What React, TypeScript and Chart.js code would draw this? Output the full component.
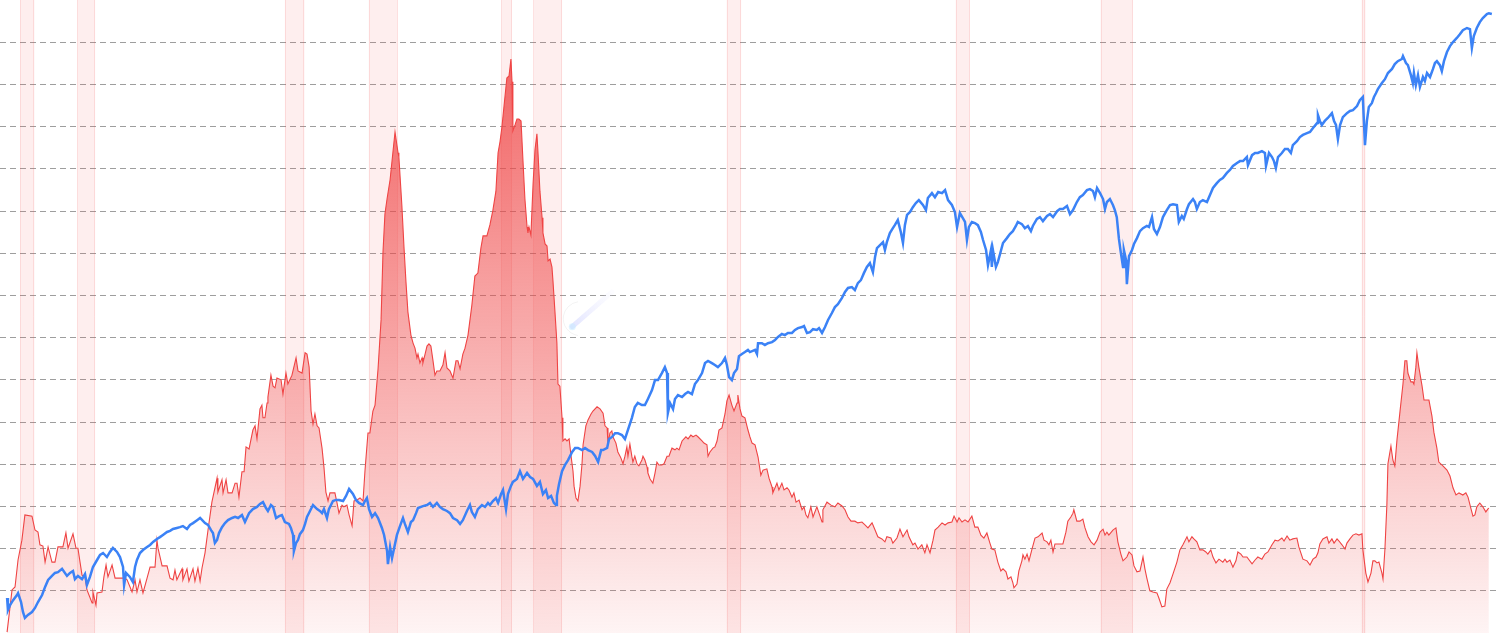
import React, { useEffect, useRef } from 'react';
import { Chart, registerables } from 'chart.js';

Chart.register(...registerables);

// Red indicator series: [decimal year, value]
const redSeries: [number, number][] = [
  [1956.98,0.02],[1957.21,1.02],[1957.35,1.09],[1957.49,1.73],[1957.67,2.20],[1957.81,2.80],[1958.14,2.77],[1958.28,2.44],[1958.42,2.39],[1958.51,2.09],[1958.65,2.06],[1958.75,1.68],[1958.89,2.04],[1959.07,1.68],[1959.21,1.68],[1959.35,2.04],[1959.58,2.04],[1959.72,2.37],[1959.82,2.01],[1960.05,2.35],[1960.19,2.01],[1960.28,2.01],[1960.47,1.37],[1960.61,1.33],[1960.70,1.02],[1960.94,0.71],[1960.98,0.97],[1961.12,0.66],[1961.17,0.95],[1961.40,0.97],[1961.49,1.33],[1961.59,1.61],[1961.68,1.33],[1961.87,1.61],[1962.01,1.30],[1962.24,1.30],[1962.47,1.30],[1962.57,1.26],[1962.80,0.97],[1962.94,1.26],[1963.03,0.97],[1963.17,1.26],[1963.31,0.95],[1963.50,1.30],[1963.64,1.56],[1963.87,1.56],[1963.96,2.20],[1964.01,2.01],[1964.20,1.59],[1964.43,1.59],[1964.57,1.30],[1964.71,1.26],[1964.80,1.49],[1964.89,1.26],[1965.13,1.52],[1965.17,1.26],[1965.36,1.52],[1965.45,1.23],[1965.64,1.52],[1965.73,1.23],[1965.87,1.54],[1965.97,1.23],[1966.06,1.54],[1966.20,1.90],[1966.34,2.44],[1966.52,3.10],[1966.76,3.67],[1966.80,3.34],[1966.99,3.63],[1967.04,3.32],[1967.18,3.63],[1967.27,3.32],[1967.46,3.32],[1967.60,3.55],[1967.69,3.55],[1967.78,3.22],[1967.92,3.82],[1968.02,3.82],[1968.11,4.41],[1968.25,4.36],
  [1968.43,4.81],[1968.53,4.91],[1968.62,4.60],[1968.76,5.31],[1968.85,5.40],[1968.90,5.10],[1968.99,5.10],[1969.09,5.45],[1969.13,5.59],[1969.27,6.11],[1969.37,5.85],[1969.46,5.81],[1969.55,6.04],[1969.74,6.00],[1969.83,5.66],[1969.97,6.16],[1970.06,5.90],[1970.25,6.11],[1970.44,6.52],[1970.53,6.21],[1970.72,6.16],[1970.86,6.64],[1970.95,6.61],[1971.05,6.30],[1971.14,5.26],[1971.23,4.95],[1971.32,5.19],[1971.42,4.91],[1971.51,4.86],[1971.65,4.38],[1971.74,3.93],[1971.83,3.34],[1971.93,3.13],[1972.02,3.32],[1972.25,3.32],[1972.35,3.08],[1972.44,2.84],[1972.58,3.03],[1972.67,2.99],[1972.81,3.03],[1972.91,2.80],[1973.05,2.54],[1973.14,3.13],[1973.28,3.15],[1973.42,3.20],[1973.56,3.13],[1973.65,3.84],[1973.79,4.74],[1973.88,4.74],[1974.02,5.26],[1974.12,5.40],[1974.26,6.26],[1974.40,7.42],[1974.49,9.03],[1974.58,9.93],[1974.68,10.29],[1974.82,10.74],[1974.95,11.38],[1975.05,11.87],[1975.19,11.38],[1975.23,11.28],[1975.37,10.12],[1975.47,9.12],[1975.56,8.32],[1975.65,7.61],[1975.79,7.06],[1975.89,6.87],[1975.98,6.75],[1976.07,6.52],[1976.12,6.61],[1976.21,6.40],[1976.31,6.52],[1976.35,6.40],[1976.45,6.61],[1976.54,6.80],[1976.63,6.85],[1976.72,6.80],[1976.82,6.45],[1976.91,6.11],[1977.00,6.21],[1977.14,6.21],[1977.28,6.35],[1977.38,6.64],[1977.47,6.28],[1977.61,6.21],[1977.75,6.04],[1977.89,6.45],[1977.98,6.45],[1978.08,6.26],[1978.21,6.61],[1978.31,6.75],[1978.45,7.06],[1978.63,7.77],[1978.77,8.46],[1978.91,8.53],[1979.05,9.12],[1979.15,9.41],[1979.33,9.41],[1979.47,9.67],[1979.61,10.02],[1979.75,10.47],[1979.85,11.38],[1979.94,11.64],
  [1980.03,11.99],[1980.17,12.70],[1980.26,13.15],[1980.36,13.20],[1980.45,13.60],[1980.50,13.06],[1980.54,11.90],[1980.64,12.04],[1980.73,12.18],[1980.82,12.18],[1980.92,12.13],[1981.01,11.19],[1981.10,10.29],[1981.20,9.62],[1981.24,9.48],[1981.29,9.62],[1981.38,9.43],[1981.48,10.64],[1981.57,11.45],[1981.66,11.83],[1981.71,11.38],[1981.80,10.47],[1981.90,9.84],[1981.94,9.48],[1982.04,9.22],[1982.13,9.17],[1982.18,8.82],[1982.27,8.86],[1982.36,8.67],[1982.41,8.32],[1982.50,7.61],[1982.59,6.87],[1982.64,5.90],[1982.73,5.85],[1982.83,5.10],[1982.87,4.55],[1982.97,4.60],[1983.06,4.55],[1983.16,4.60],[1983.25,4.19],[1983.34,3.84],[1983.39,3.48],[1983.48,3.20],[1983.57,3.13],[1983.67,3.48],[1983.76,4.01],[1983.81,4.46],[1983.94,4.91],[1984.04,5.05],[1984.18,5.19],[1984.27,5.26],[1984.46,5.36],[1984.60,5.31],[1984.74,5.21],[1984.83,4.91],[1984.93,4.86],[1984.97,4.46],[1985.06,4.74],[1985.15,4.79],[1985.20,4.65],[1985.34,4.50],[1985.43,4.29],[1985.57,4.15],[1985.67,4.01],[1985.76,4.19],[1985.85,4.41],[1985.90,4.19],[1985.99,4.48],[1986.08,4.19],[1986.13,4.05],[1986.22,4.19],[1986.32,4.01],[1986.41,3.96],[1986.55,4.10],[1986.60,4.19],[1986.69,4.10],[1986.79,3.93],[1986.83,3.79],[1986.93,3.65],[1987.06,3.55],[1987.16,3.79],[1987.25,4.05],[1987.34,3.98],[1987.48,3.98],[1987.58,4.01],[1987.72,4.19],[1987.81,4.19],[1987.95,4.38],[1988.09,4.34],[1988.18,4.38],[1988.28,4.34],[1988.42,4.55],[1988.51,4.60],[1988.60,4.65],[1988.70,4.60],[1988.83,4.69],[1988.93,4.65],[1989.07,4.69],[1989.16,4.65],[1989.35,4.55],[1989.44,4.50],[1989.58,4.46],[1989.63,4.19],[1989.72,4.29],[1989.86,4.38],[1989.95,4.41],[1990.05,4.55],[1990.14,4.81],[1990.28,4.86],[1990.42,5.19],[1990.51,5.50],[1990.61,5.64],[1990.74,5.40],[1990.84,5.26],[1990.98,5.45],[1991.02,5.64],[1991.12,5.31],[1991.21,5.14],[1991.35,5.10],[1991.49,4.81],[1991.58,4.65],
  [1991.68,4.50],[1991.82,4.46],[1991.96,4.17],[1992.09,3.74],[1992.19,3.86],[1992.37,3.89],[1992.47,3.67],[1992.61,3.46],[1992.65,3.32],[1992.84,3.55],[1992.93,3.39],[1993.07,3.55],[1993.17,3.39],[1993.31,3.44],[1993.40,3.39],[1993.54,3.22],[1993.63,3.32],[1993.73,3.10],[1993.87,3.15],[1994.01,2.92],[1994.10,2.99],[1994.19,2.80],[1994.28,2.73],[1994.42,2.99],[1994.52,2.75],[1994.70,2.99],[1994.80,2.84],[1994.94,2.63],[1994.98,2.92],[1995.17,3.10],[1995.36,3.03],[1995.54,2.99],[1995.68,3.08],[1995.87,3.01],[1996.01,2.92],[1996.15,2.75],[1996.29,2.65],[1996.47,2.65],[1996.61,2.61],[1996.80,2.63],[1996.94,2.56],[1997.08,2.49],[1997.27,2.61],[1997.41,2.44],[1997.54,2.28],[1997.73,2.23],[1997.87,2.16],[1997.96,2.28],[1998.15,2.25],[1998.24,2.13],[1998.43,2.25],[1998.57,2.46],[1998.71,2.28],[1998.90,2.44],[1998.99,2.28],[1999.17,2.09],[1999.27,2.13],[1999.41,1.99],[1999.59,2.09],[1999.73,1.90],[1999.83,2.09],[1999.97,1.90],[2000.11,2.20],[2000.20,2.44],[2000.35,2.51],[2000.53,2.61],[2000.67,2.56],[2000.81,2.61],[2000.99,2.63],[2001.09,2.77],[2001.23,2.63],[2001.32,2.73],[2001.46,2.63],[2001.60,2.68],[2001.74,2.63],[2001.92,2.77],[2002.06,2.51],[2002.20,2.51],[2002.34,2.32],[2002.48,2.25],[2002.62,2.37],[2002.76,2.13],
  [2002.85,1.99],[2002.99,1.97],[2003.13,1.68],[2003.27,1.47],[2003.37,1.52],[2003.51,1.45],[2003.60,1.28],[2003.74,1.33],[2003.83,1.19],[2003.88,1.07],[2004.02,1.16],[2004.11,1.47],[2004.25,1.71],[2004.30,1.85],[2004.39,1.75],[2004.49,1.87],[2004.58,1.71],[2004.72,1.99],[2004.86,2.25],[2005.00,2.28],[2005.19,2.37],[2005.28,2.20],[2005.42,2.16],[2005.51,2.09],[2005.60,2.20],[2005.70,1.92],[2005.79,2.11],[2006.02,2.11],[2006.16,2.11],[2006.30,2.39],[2006.39,2.65],[2006.53,2.75],[2006.63,2.84],[2006.67,2.92],[2006.81,2.65],[2006.95,2.65],[2007.09,2.70],[2007.19,2.49],[2007.33,2.28],[2007.47,2.16],[2007.61,2.09],[2007.75,2.20],[2007.89,2.39],[2008.03,2.46],[2008.12,2.32],[2008.21,2.39],[2008.30,2.32],[2008.49,2.44],[2008.63,2.49],[2008.72,2.16],[2008.86,1.87],[2008.96,1.71],[2009.14,1.80],[2009.24,1.92],[2009.38,1.85],[2009.47,1.59],[2009.61,1.45],[2009.75,1.47],[2009.84,1.68],[2009.89,1.80],[2009.98,1.52],[2010.07,1.30],[2010.21,1.00],[2010.35,0.97],[2010.54,0.95],[2010.63,0.83],[2010.77,0.62],[2010.91,0.64],[2011.00,1.04],[2011.15,1.19],[2011.29,1.40],[2011.47,1.68],[2011.61,1.97],[2011.75,2.09],[2011.94,2.28],[2012.03,2.16],[2012.17,2.28],[2012.26,2.23],[2012.40,2.16],[2012.54,1.97],[2012.68,1.97],[2012.82,1.92],[2012.91,1.87],[2013.05,1.97],[2013.15,1.80],[2013.29,1.66],[2013.43,1.75],[2013.61,1.68],[2013.71,1.75],[2013.80,1.68],[2013.94,1.73],[2014.08,1.56],[2014.22,1.71],[2014.31,1.92],[2014.45,1.87],[2014.55,1.80],
  [2014.73,1.80],[2014.97,1.64],[2015.11,1.73],[2015.24,1.80],[2015.43,1.75],[2015.57,1.87],[2015.71,1.92],[2015.90,2.09],[2016.04,2.20],[2016.18,2.18],[2016.36,2.25],[2016.46,2.18],[2016.60,2.30],[2016.73,2.20],[2016.87,2.23],[2017.06,2.25],[2017.15,2.04],[2017.34,1.75],[2017.53,1.71],[2017.67,1.61],[2017.81,1.75],[2017.95,1.80],[2018.04,1.90],[2018.13,2.11],[2018.27,2.23],[2018.46,2.28],[2018.55,2.13],[2018.69,2.23],[2018.79,2.13],[2018.93,2.23],[2019.02,2.18],[2019.16,2.09],[2019.30,1.99],[2019.39,2.13],[2019.53,2.23],[2019.67,2.32],[2019.81,2.35],[2019.95,2.32],[2020.09,2.35],[2020.13,1.99],[2020.27,1.42],[2020.37,1.21],[2020.51,1.42],[2020.60,1.71],[2020.69,1.71],[2020.79,1.66],[2020.88,1.68],[2021.02,1.42],[2021.07,1.28],[2021.16,1.99],[2021.25,3.03],[2021.30,4.01],[2021.44,4.43],[2021.53,4.10],[2021.62,3.96],[2021.72,4.57],[2021.86,5.24],[2022.00,5.90],[2022.09,6.45],[2022.18,6.45],[2022.23,6.16],[2022.37,5.95],[2022.46,5.95],[2022.51,5.90],[2022.60,6.30],[2022.65,6.64],[2022.74,6.30],[2022.89,5.85],[2022.98,5.52],[2023.12,5.52],[2023.21,5.52],[2023.35,5.14],[2023.44,4.76],[2023.58,4.38],[2023.67,4.05],[2023.86,3.96],[2024.05,3.86],[2024.19,3.72],[2024.33,3.44],[2024.47,3.27],[2024.61,3.32],[2024.79,3.27],[2024.93,3.32],[2025.03,3.22],[2025.17,2.94],[2025.26,2.77],[2025.35,2.80],[2025.44,2.99],[2025.58,3.08],[2025.72,2.99],[2025.86,2.87],[2025.96,2.94],[2026.00,2.96],
];

// S&P 500, log10 of index level: [decimal year, log10(level)]
const spxLog10: [number, number][] = [
  [1956.98,1.670],[1957.02,1.625],[1957.12,1.644],[1957.26,1.662],[1957.44,1.681],[1957.49,1.688],[1957.63,1.655],[1957.72,1.618],[1957.81,1.596],[1957.95,1.607],[1958.14,1.618],[1958.28,1.633],[1958.42,1.655],[1958.61,1.681],[1958.75,1.711],[1958.89,1.737],[1959.07,1.752],[1959.21,1.763],[1959.35,1.766],[1959.54,1.778],[1959.77,1.752],[1959.91,1.763],[1960.05,1.770],[1960.14,1.740],[1960.28,1.752],[1960.47,1.740],[1960.61,1.759],[1960.70,1.718],[1960.84,1.748],[1960.98,1.785],[1961.17,1.811],[1961.31,1.830],[1961.45,1.837],[1961.63,1.822],[1961.77,1.841],[1961.91,1.856],[1962.10,1.841],[1962.24,1.822],[1962.38,1.785],[1962.43,1.718],[1962.52,1.763],[1962.70,1.748],[1962.84,1.729],[1962.94,1.785],[1963.03,1.811],[1963.17,1.837],[1963.31,1.848],[1963.50,1.859],[1963.64,1.867],[1963.78,1.878],[1963.96,1.889],[1964.10,1.896],[1964.24,1.904],[1964.43,1.915],[1964.57,1.919],[1964.71,1.926],[1964.89,1.930],[1965.03,1.933],[1965.17,1.937],[1965.36,1.926],[1965.50,1.941],[1965.64,1.948],[1965.83,1.959],[1965.97,1.967],[1966.20,1.948],[1966.34,1.941],[1966.48,1.922],[1966.57,1.911],[1966.66,1.874],[1966.76,1.885],[1966.85,1.911],[1966.99,1.933],[1967.13,1.948],[1967.27,1.959],[1967.46,1.967],[1967.60,1.971],[1967.74,1.967],[1967.92,1.978],[1968.06,1.952],[1968.25,1.985],
  [1968.43,2.000],[1968.62,2.008],[1968.76,2.019],[1968.90,2.026],[1969.04,2.004],[1969.13,1.993],[1969.27,2.015],[1969.37,2.008],[1969.51,1.967],[1969.65,1.974],[1969.78,1.978],[1969.92,1.952],[1970.11,1.945],[1970.20,1.930],[1970.30,1.904],[1970.34,1.844],[1970.44,1.874],[1970.53,1.885],[1970.62,1.907],[1970.76,1.922],[1970.86,1.945],[1970.95,1.971],[1971.09,1.993],[1971.23,2.015],[1971.42,2.000],[1971.55,1.993],[1971.65,1.985],[1971.74,2.000],[1971.88,1.967],[1971.97,2.000],[1972.16,2.030],[1972.30,2.034],[1972.44,2.034],[1972.63,2.030],[1972.77,2.049],[1972.91,2.075],[1973.09,2.056],[1973.23,2.034],[1973.37,2.023],[1973.56,2.015],[1973.65,2.030],[1973.74,2.041],[1973.84,2.000],[1973.98,1.971],[1974.12,1.985],[1974.26,1.967],[1974.44,1.930],[1974.54,1.904],[1974.68,1.844],[1974.72,1.796],[1974.82,1.859],[1974.91,1.818],[1975.00,1.852],[1975.14,1.904],[1975.28,1.937],[1975.42,1.967],[1975.51,1.945],[1975.65,1.915],[1975.79,1.952],[1975.89,1.959],[1976.03,1.985],[1976.12,2.004],[1976.35,2.011],[1976.54,2.015],[1976.68,2.023],[1976.82,2.008],[1977.00,2.023],[1977.14,2.008],[1977.28,2.000],[1977.47,1.993],[1977.61,1.985],[1977.75,1.967],[1977.94,1.959],[1978.08,1.945],[1978.21,1.959],[1978.40,1.993],[1978.54,2.015],[1978.63,1.989],[1978.77,1.971],[1978.91,2.000],
  [1979.10,2.015],[1979.24,2.008],[1979.38,2.023],[1979.47,2.015],[1979.61,2.030],[1979.75,2.041],[1979.85,2.023],[1979.99,2.056],[1980.08,2.071],[1980.22,2.000],[1980.31,2.056],[1980.45,2.086],[1980.54,2.101],[1980.73,2.112],[1980.87,2.141],[1981.01,2.112],[1981.20,2.134],[1981.34,2.119],[1981.48,2.112],[1981.66,2.086],[1981.80,2.101],[1981.94,2.056],[1982.08,2.071],[1982.18,2.041],[1982.32,2.049],[1982.45,2.023],[1982.55,2.015],[1982.59,2.049],[1982.69,2.093],[1982.83,2.141],[1982.97,2.164],[1983.11,2.182],[1983.30,2.212],[1983.44,2.227],[1983.57,2.227],[1983.76,2.219],[1983.90,2.227],[1984.04,2.219],[1984.23,2.212],[1984.37,2.197],[1984.51,2.175],[1984.65,2.219],[1984.74,2.219],[1984.93,2.227],[1985.02,2.260],[1985.16,2.268],[1985.30,2.282],[1985.43,2.282],[1985.62,2.275],[1985.76,2.260],[1985.90,2.294],[1986.08,2.338],[1986.22,2.379],[1986.36,2.394],[1986.55,2.386],[1986.69,2.386],[1986.83,2.409],[1987.02,2.442],[1987.16,2.479],[1987.30,2.479],[1987.48,2.505],[1987.62,2.527],[1987.72,2.505],[1987.76,2.357],[1987.86,2.394],[1988.00,2.371],[1988.09,2.409],[1988.23,2.423],[1988.42,2.416],[1988.56,2.427],[1988.70,2.435],[1988.88,2.427],[1989.02,2.464],[1989.16,2.479],[1989.35,2.505],[1989.49,2.542],[1989.63,2.550],[1989.81,2.542],[1989.95,2.535],[1990.09,2.527],[1990.28,2.542],[1990.42,2.561],[1990.51,2.535],[1990.61,2.490],[1990.74,2.479],[1990.84,2.505],[1990.98,2.520],[1991.07,2.568],[1991.21,2.576],[1991.35,2.583],[1991.49,2.591],
  [1991.58,2.583],[1991.82,2.591],[1991.91,2.576],[1991.96,2.616],[1992.14,2.616],[1992.28,2.609],[1992.42,2.616],[1992.61,2.620],[1992.75,2.628],[1992.89,2.639],[1993.07,2.650],[1993.21,2.646],[1993.35,2.654],[1993.54,2.654],[1993.68,2.665],[1993.82,2.672],[1994.01,2.676],[1994.10,2.680],[1994.24,2.654],[1994.38,2.657],[1994.52,2.668],[1994.70,2.665],[1994.80,2.672],[1994.94,2.654],[1995.08,2.676],[1995.22,2.702],[1995.40,2.728],[1995.54,2.750],[1995.68,2.761],[1995.87,2.784],[1996.01,2.806],[1996.15,2.821],[1996.33,2.824],[1996.47,2.813],[1996.61,2.839],[1996.75,2.850],[1996.89,2.876],[1997.03,2.899],[1997.17,2.913],[1997.31,2.880],[1997.41,2.936],[1997.50,2.969],[1997.64,2.980],[1997.78,2.991],[1997.87,2.962],[1997.96,2.991],[1998.10,3.025],[1998.24,3.043],[1998.33,3.054],[1998.47,3.073],[1998.61,3.029],[1998.71,2.988],[1998.80,3.054],[1998.90,3.092],[1999.04,3.103],[1999.17,3.121],[1999.31,3.136],[1999.45,3.147],[1999.64,3.129],[1999.78,3.110],[1999.87,3.155],[2000.06,3.173],[2000.20,3.158],[2000.35,3.177],[2000.53,3.173],[2000.67,3.184],[2000.81,3.147],[2000.99,3.129],[2001.13,3.103],[2001.23,3.047],[2001.36,3.099],[2001.50,3.080],[2001.60,3.066],[2001.69,2.999],[2001.78,3.047],[2001.92,3.066],[2002.06,3.062],[2002.20,3.054],[2002.34,3.029],[2002.44,2.999],[2002.58,2.962],[2002.67,2.906],[2002.81,2.962],
  [2002.85,2.899],[2002.90,2.962],[2003.04,2.899],[2003.13,2.917],[2003.27,2.958],[2003.37,2.988],[2003.55,3.006],[2003.69,3.021],[2003.83,3.032],[2003.97,3.051],[2004.06,3.066],[2004.25,3.058],[2004.39,3.043],[2004.53,3.051],[2004.67,3.032],[2004.76,3.051],[2004.95,3.077],[2005.09,3.084],[2005.23,3.069],[2005.42,3.088],[2005.56,3.095],[2005.70,3.084],[2005.89,3.106],[2006.02,3.114],[2006.16,3.114],[2006.35,3.125],[2006.49,3.095],[2006.63,3.110],[2006.81,3.140],[2006.95,3.158],[2007.09,3.166],[2007.28,3.184],[2007.42,3.188],[2007.56,3.181],[2007.65,3.158],[2007.75,3.192],[2007.89,3.173],[2008.03,3.151],[2008.12,3.114],[2008.21,3.140],[2008.35,3.151],[2008.49,3.129],[2008.58,3.110],[2008.67,3.084],[2008.77,3.003],[2008.86,2.951],[2008.96,2.899],[2009.00,2.962],[2009.10,2.925],[2009.14,2.835],[2009.24,2.939],[2009.38,2.962],[2009.47,2.984],[2009.61,3.006],[2009.75,3.032],[2009.89,3.043],[2010.07,3.051],[2010.17,3.047],[2010.31,3.084],[2010.40,3.040],[2010.54,3.021],[2010.68,3.047],[2010.82,3.084],[2011.00,3.110],[2011.15,3.129],[2011.29,3.132],[2011.47,3.129],[2011.56,3.066],[2011.70,3.088],[2011.79,3.077],[2011.94,3.114],[2012.03,3.132],[2012.22,3.151],[2012.31,3.140],[2012.40,3.114],[2012.54,3.140],[2012.68,3.147],[2012.87,3.140],[2013.01,3.166],[2013.15,3.192],[2013.33,3.210],[2013.47,3.222],[2013.61,3.229],[2013.80,3.248],[2013.94,3.259],[2014.08,3.274],[2014.27,3.285],[2014.41,3.292],
  [2014.55,3.292],[2014.73,3.307],[2014.78,3.277],[2014.97,3.314],[2015.11,3.322],[2015.24,3.322],[2015.43,3.329],[2015.57,3.322],[2015.62,3.274],[2015.76,3.322],[2015.90,3.307],[2015.99,3.292],[2016.08,3.266],[2016.18,3.307],[2016.36,3.322],[2016.50,3.337],[2016.64,3.337],[2016.78,3.322],[2016.87,3.351],[2017.06,3.366],[2017.20,3.381],[2017.34,3.389],[2017.53,3.396],[2017.67,3.400],[2017.81,3.415],[2018.00,3.433],[2018.04,3.463],[2018.13,3.441],[2018.22,3.426],[2018.36,3.441],[2018.50,3.452],[2018.69,3.470],[2018.79,3.441],[2018.88,3.426],[2018.97,3.374],[2019.07,3.426],[2019.20,3.455],[2019.39,3.470],[2019.53,3.478],[2019.67,3.481],[2019.86,3.496],[2019.99,3.518],[2020.13,3.530],[2020.18,3.441],[2020.23,3.351],[2020.32,3.441],[2020.41,3.493],[2020.55,3.507],[2020.65,3.530],[2020.74,3.544],[2020.83,3.559],[2021.02,3.582],[2021.16,3.596],[2021.30,3.619],[2021.49,3.634],[2021.62,3.652],[2021.76,3.663],[2021.95,3.671],[2022.00,3.682],[2022.14,3.656],[2022.23,3.648],[2022.37,3.611],[2022.46,3.582],[2022.51,3.619],[2022.60,3.574],[2022.70,3.611],[2022.79,3.567],[2022.93,3.604],[2023.02,3.589],[2023.12,3.619],[2023.26,3.604],[2023.40,3.634],[2023.49,3.656],[2023.58,3.663],[2023.72,3.648],[2023.81,3.626],[2023.91,3.663],[2024.05,3.697],[2024.19,3.719],[2024.33,3.734],[2024.51,3.749],[2024.65,3.763],[2024.79,3.778],[2024.98,3.786],[2025.12,3.782],[2025.21,3.712],[2025.30,3.756],[2025.44,3.786],[2025.58,3.808],[2025.72,3.823],[2025.91,3.838],[2026.00,3.841],[2026.14,3.838],
];

// Recession periods (decimal years)
const recessionStarts = [1957.58, 1960.25, 1969.92, 1973.83, 1980.0, 1981.5, 1990.5, 2001.17, 2007.92, 2020.08];
const recessionEnds = [1958.25, 1961.08, 1970.83, 1975.17, 1980.5, 1982.83, 1991.17, 2001.83, 2009.42, 2020.25];

const X_MIN = 1956.65;
const X_MAX = 2026.52;
const RED_MIN = 0;
const RED_MAX = 15;
const SPX_LOG_MIN = 1.54;
const SPX_LOG_MAX = 3.89;

const recessionPlugin = {
  id: 'recessionBands',
  beforeDatasetsDraw(chart: any) {
    const { ctx, chartArea, scales } = chart;
    const xs = scales.x;
    ctx.save();
    for (let i = 0; i < recessionStarts.length; i++) {
      const x0 = xs.getPixelForValue(recessionStarts[i]);
      const x1 = xs.getPixelForValue(recessionEnds[i]);
      ctx.fillStyle = 'rgba(239,68,68,0.09)';
      ctx.fillRect(x0, chartArea.top, x1 - x0, chartArea.bottom - chartArea.top);
      ctx.strokeStyle = 'rgba(239,68,68,0.12)';
      ctx.lineWidth = 1;
      ctx.beginPath();
      ctx.moveTo(Math.round(x0) + 0.5, chartArea.top);
      ctx.lineTo(Math.round(x0) + 0.5, chartArea.bottom);
      ctx.moveTo(Math.round(x1) - 0.5, chartArea.top);
      ctx.lineTo(Math.round(x1) - 0.5, chartArea.bottom);
      ctx.stroke();
    }
    ctx.restore();
  },
};

// Faint logo watermark (decoration only)
const watermarkPlugin = {
  id: 'watermark',
  afterDatasetsDraw(chart: any) {
    const { ctx, chartArea } = chart;
    const w = chartArea.right - chartArea.left;
    const h = chartArea.bottom - chartArea.top;
    const hx = chartArea.left + w * 0.3815;
    const hy = chartArea.top + h * 0.516;
    const tx = chartArea.left + w * 0.408;
    const ty = chartArea.top + h * 0.461;
    ctx.save();
    const g = ctx.createLinearGradient(hx, hy, tx, ty);
    g.addColorStop(0, 'rgba(190,195,255,0.45)');
    g.addColorStop(1, 'rgba(225,225,255,0.1)');
    ctx.strokeStyle = g;
    ctx.lineCap = 'round';
    ctx.lineWidth = 5;
    ctx.beginPath();
    ctx.moveTo(hx, hy);
    ctx.lineTo(tx, ty);
    ctx.stroke();
    ctx.fillStyle = 'rgba(200,235,255,0.55)';
    ctx.beginPath();
    ctx.arc(hx, hy, 3.5, 0, Math.PI * 2);
    ctx.fill();
    ctx.strokeStyle = 'rgba(0,0,0,0.05)';
    ctx.lineWidth = 1;
    ctx.beginPath();
    ctx.arc(hx + 8, hy - 8, 17, Math.PI * 0.55, Math.PI * 1.45);
    ctx.stroke();
    ctx.restore();
  },
};

export default function App() {
  const canvasRef = useRef<HTMLCanvasElement>(null);

  useEffect(() => {
    const canvas = canvasRef.current;
    if (!canvas) return;
    const chart = new Chart(canvas, {
      type: 'line',
      data: {
        datasets: [
          {
            label: 'S&P 500 (log10)',
            data: spxLog10.map(([x, y]) => ({ x, y })),
            yAxisID: 'y1',
            borderColor: '#3b82f6',
            borderWidth: 2.5,
            pointRadius: 0,
            fill: false,
            tension: 0,
            order: 0,
          },
          {
            label: 'Indicator',
            data: redSeries.map(([x, y]) => ({ x, y })),
            yAxisID: 'y',
            borderColor: '#ef4444',
            borderWidth: 1.1,
            pointRadius: 0,
            fill: 'start',
            tension: 0,
            order: 1,
            backgroundColor: (context: any) => {
              const { chart: ch } = context;
              const area = ch.chartArea;
              if (!area) return 'rgba(239,68,68,0.3)';
              const g = ch.ctx.createLinearGradient(0, area.top, 0, area.bottom);
              g.addColorStop(0, 'rgba(239,68,68,0.88)');
              g.addColorStop(1, 'rgba(239,68,68,0.06)');
              return g;
            },
          },
        ],
      },
      options: {
        animation: false,
        responsive: false,
        maintainAspectRatio: false,
        devicePixelRatio: 1,
        layout: { padding: 0 },
        plugins: {
          legend: { display: false },
          tooltip: { enabled: false },
          title: { display: false },
        },
        scales: {
          x: { type: 'linear', min: X_MIN, max: X_MAX, display: false },
          y: {
            type: 'linear',
            position: 'left',
            min: RED_MIN,
            max: RED_MAX,
            ticks: { display: false, stepSize: 1 },
            grid: {
              drawTicks: false,
              lineWidth: 1,
              color: (c: any) =>
                c.tick && (c.tick.value <= RED_MIN || c.tick.value >= RED_MAX)
                  ? 'rgba(0,0,0,0)'
                  : 'rgba(0,0,0,0.38)',
            },
            border: { display: false, dash: [6, 4] },
          },
          y1: { type: 'linear', position: 'right', min: SPX_LOG_MIN, max: SPX_LOG_MAX, display: false },
        },
      } as any,
      plugins: [recessionPlugin, watermarkPlugin],
    });
    return () => chart.destroy();
  }, []);

  return (
    <div style={{ position: 'fixed', left: 0, top: 0, width: 1500, height: 633, background: '#ffffff' }}>
      <canvas ref={canvasRef} width={1500} height={633} style={{ display: 'block' }} />
    </div>
  );
}
